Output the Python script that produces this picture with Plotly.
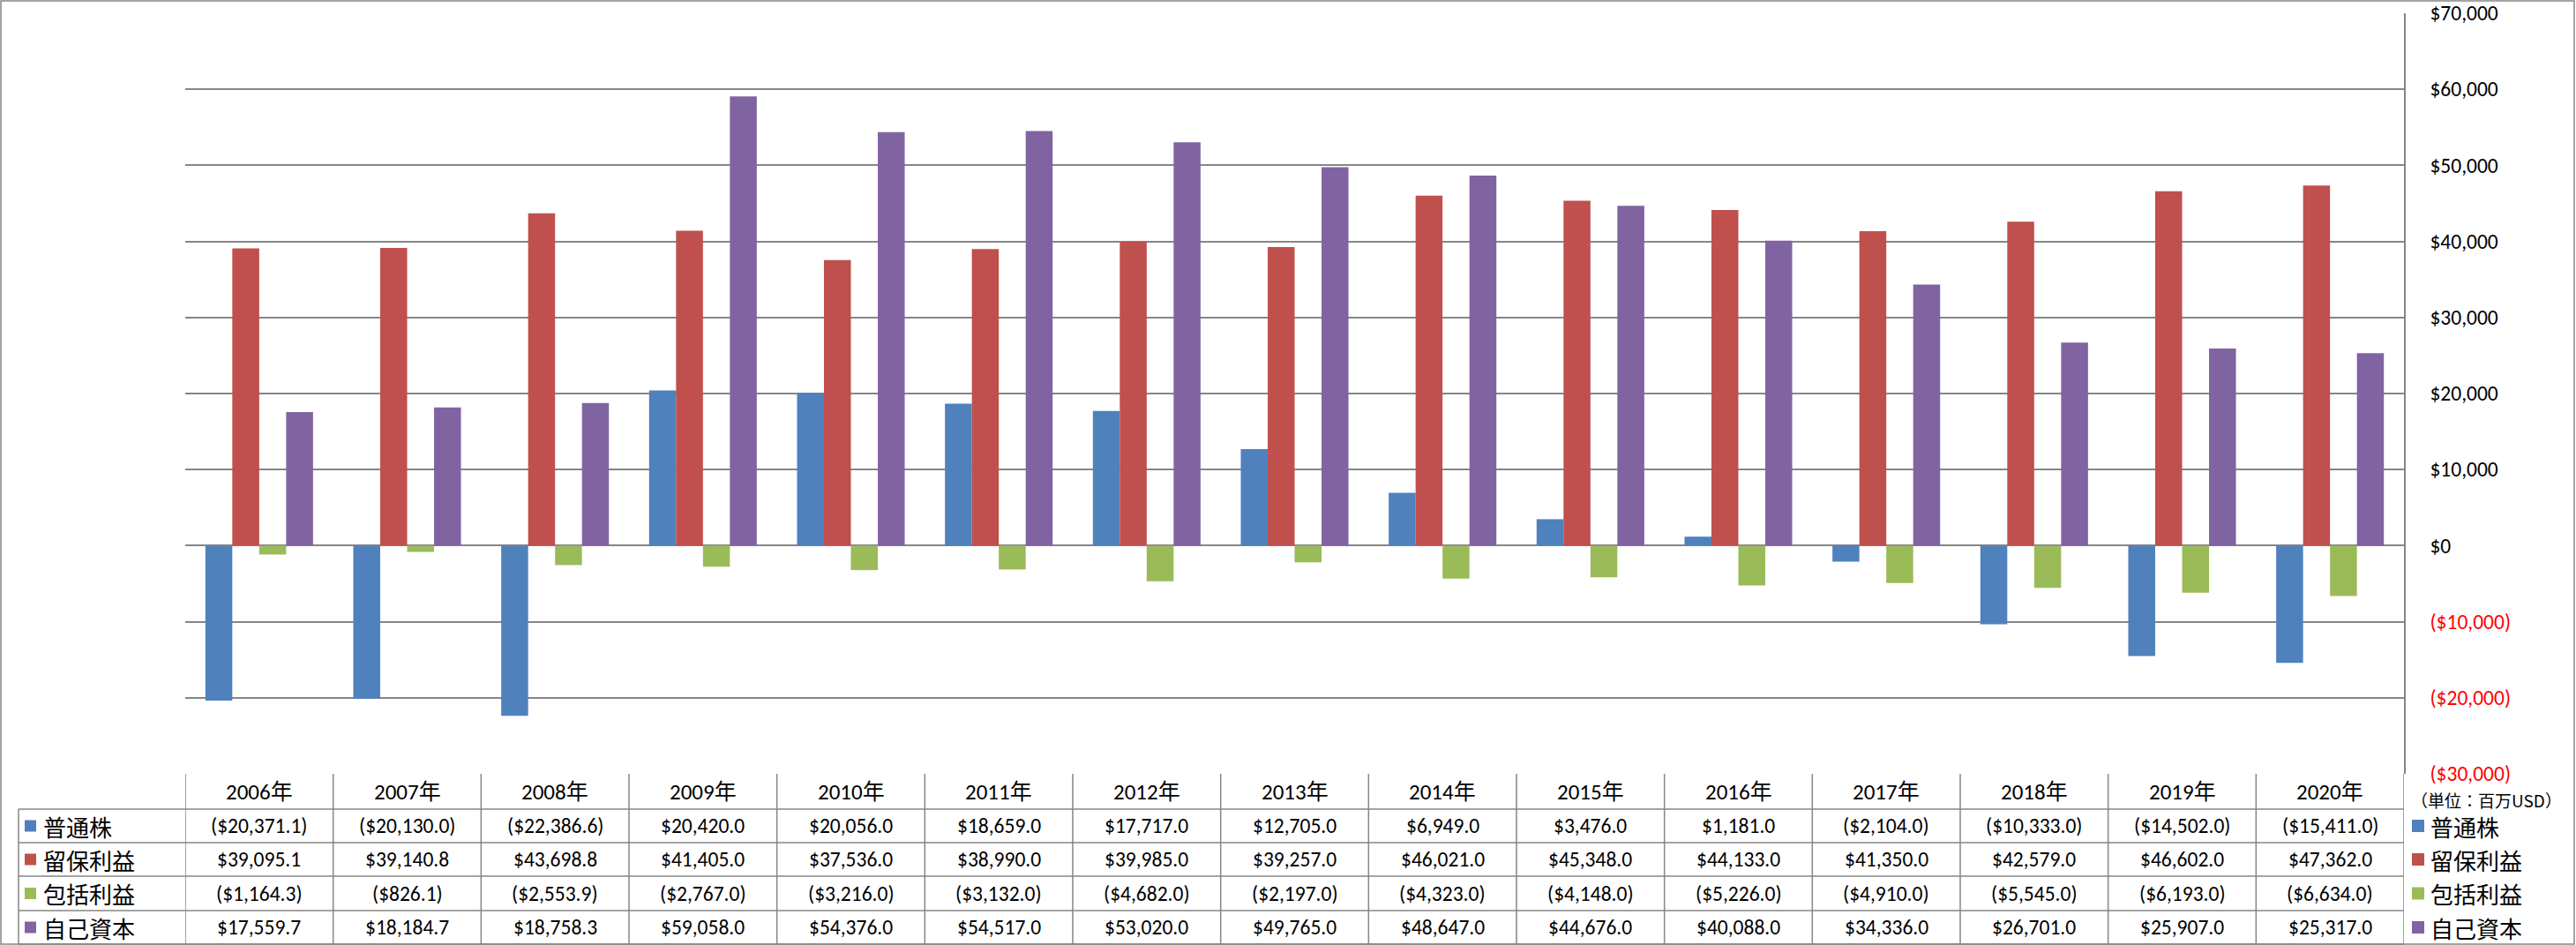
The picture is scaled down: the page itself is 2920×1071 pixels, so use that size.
import plotly.graph_objects as go

# ---------------- data ----------------
years = ["2006年", "2007年", "2008年", "2009年", "2010年", "2011年", "2012年", "2013年",
         "2014年", "2015年", "2016年", "2017年", "2018年", "2019年", "2020年"]
series_names = ["普通株", "留保利益", "包括利益", "自己資本"]
common_stock = [-20371.1, -20130.0, -22386.6, 20420.0, 20056.0, 18659.0, 17717.0, 12705.0,
                6949.0, 3476.0, 1181.0, -2104.0, -10333.0, -14502.0, -15411.0]
retained_earnings = [39095.1, 39140.8, 43698.8, 41405.0, 37536.0, 38990.0, 39985.0, 39257.0,
                     46021.0, 45348.0, 44133.0, 41350.0, 42579.0, 46602.0, 47362.0]
comprehensive_income = [-1164.3, -826.1, -2553.9, -2767.0, -3216.0, -3132.0, -4682.0, -2197.0,
                        -4323.0, -4148.0, -5226.0, -4910.0, -5545.0, -6193.0, -6634.0]
equity = [17559.7, 18184.7, 18758.3, 59058.0, 54376.0, 54517.0, 53020.0, 49765.0,
          48647.0, 44676.0, 40088.0, 34336.0, 26701.0, 25907.0, 25317.0]
y_ticks = [-30000, -20000, -10000, 0, 10000, 20000, 30000, 40000, 50000, 60000, 70000]
unit_label = "（単位：百万USD）"

series_values = [common_stock, retained_earnings, comprehensive_income, equity]
colors = ["#4F81BD", "#C0504D", "#9BBB59", "#8064A2"]

# ---------------- layout helpers ----------------
W, H = 2920, 1071
GRID = "#868686"
NUM_FONT = "Liberation Sans Narrow, Carlito, Open Sans, sans-serif"
JP_FONT = "Noto Sans CJK JP, sans-serif"


def px(x):
    return x / W


def py(y):
    return 1 - y / H


def money(v, dec=1):
    s = f"${abs(v):,.{dec}f}"
    return f"({s})" if v < 0 else s


def tick_text(v):
    s = f"${abs(v):,.0f}"
    if v < 0:
        return f"<span style='color:#FF0000'>({s})</span>"
    return s


fig = go.Figure()
for name, vals, col in zip(series_names, series_values, colors):
    fig.add_trace(go.Bar(x=years, y=vals, name=name, marker=dict(color=col, line=dict(width=0))))

PLOT_L, PLOT_R, PLOT_T, PLOT_B = 210, 2725, 15, 877

fig.update_layout(
    width=W, height=H,
    margin=dict(l=0, r=0, t=0, b=0, autoexpand=False),
    paper_bgcolor="white", plot_bgcolor="white",
    barmode="group", bargap=0.272, bargroupgap=0,
    showlegend=False,
    xaxis=dict(domain=[px(PLOT_L), px(PLOT_R)], range=[-0.5, len(years) - 0.5],
               showticklabels=False, showgrid=False, zeroline=False, showline=False,
               automargin=False, fixedrange=True),
    yaxis=dict(domain=[py(PLOT_B), py(PLOT_T)], range=[y_ticks[0], y_ticks[-1]],
               side="right", tickvals=y_ticks, ticktext=[tick_text(v) for v in y_ticks],
               tickfont=dict(family=NUM_FONT, size=23.5, color="black"),
               showgrid=True, gridcolor=GRID, gridwidth=1.5,
               zeroline=True, zerolinecolor=GRID, zerolinewidth=1.5,
               showline=True, linecolor=GRID, linewidth=1.5,
               ticks="", ticklabelstandoff=23, automargin=False, fixedrange=True),
)

shapes = []
line = dict(color=GRID, width=1.5)

# outer frame
shapes.append(dict(type="rect", xref="paper", yref="paper", x0=px(1), x1=px(W - 2),
                   y0=py(H - 1), y1=py(1), line=line))

# table geometry
HEAD_T, HEAD_B = 877, 917
row_lines = [917, 955, 993, 1032, 1070]
TABLE_L = 21

for yl in row_lines:
    shapes.append(dict(type="line", xref="paper", yref="paper", x0=px(TABLE_L), x1=px(PLOT_R),
                       y0=py(yl), y1=py(yl), line=line))
shapes.append(dict(type="line", xref="paper", yref="paper", x0=px(TABLE_L), x1=px(TABLE_L),
                   y0=py(HEAD_B), y1=py(1070), line=line))
for xb in [-0.5 + i for i in range(len(years) + 1)]:
    shapes.append(dict(type="line", xref="x", yref="paper", x0=xb, x1=xb,
                       y0=py(HEAD_T), y1=py(1070), line=line))

annotations = []
head_c = (HEAD_T + HEAD_B) / 2
for i, yr in enumerate(years):
    annotations.append(dict(x=i, y=py(head_c), xref="x", yref="paper", text=yr, showarrow=False,
                            font=dict(family=NUM_FONT + ", " + JP_FONT, size=25, color="black"),
                            xanchor="center", yanchor="middle"))

for r, (name, vals, col) in enumerate(zip(series_names, series_values, colors)):
    yc = (row_lines[r] + row_lines[r + 1]) / 2
    for i, v in enumerate(vals):
        annotations.append(dict(x=i, y=py(yc), xref="x", yref="paper", text=money(v), showarrow=False,
                                font=dict(family=NUM_FONT, size=23.5, color="black"),
                                xanchor="center", yanchor="middle"))
    # left row label
    shapes.append(dict(type="rect", xref="paper", yref="paper", x0=px(28), x1=px(41),
                       y0=py(yc + 6.5), y1=py(yc - 6.5), fillcolor=col, line=dict(width=0)))
    annotations.append(dict(x=px(47), y=py(yc), xref="paper", yref="paper", text=name, showarrow=False,
                            font=dict(family=JP_FONT, size=26, color="black"),
                            xanchor="left", yanchor="middle"))
    # right legend
    shapes.append(dict(type="rect", xref="paper", yref="paper", x0=px(2734), x1=px(2748),
                       y0=py(yc + 7), y1=py(yc - 7), fillcolor=col, line=dict(width=0)))
    annotations.append(dict(x=px(2753), y=py(yc), xref="paper", yref="paper", text=name, showarrow=False,
                            font=dict(family=JP_FONT, size=26, color="black"),
                            xanchor="left", yanchor="middle"))

annotations.append(dict(x=px(2818), y=py(906), xref="paper", yref="paper", text=unit_label,
                        showarrow=False, font=dict(family=JP_FONT, size=19, color="black"),
                        xanchor="center", yanchor="middle"))

fig.update_layout(shapes=shapes, annotations=annotations)
fig.write_html("out.html",
               config={"displayModeBar": False},
               post_script="document.body.style.margin='0px';document.body.style.overflow='hidden';")
